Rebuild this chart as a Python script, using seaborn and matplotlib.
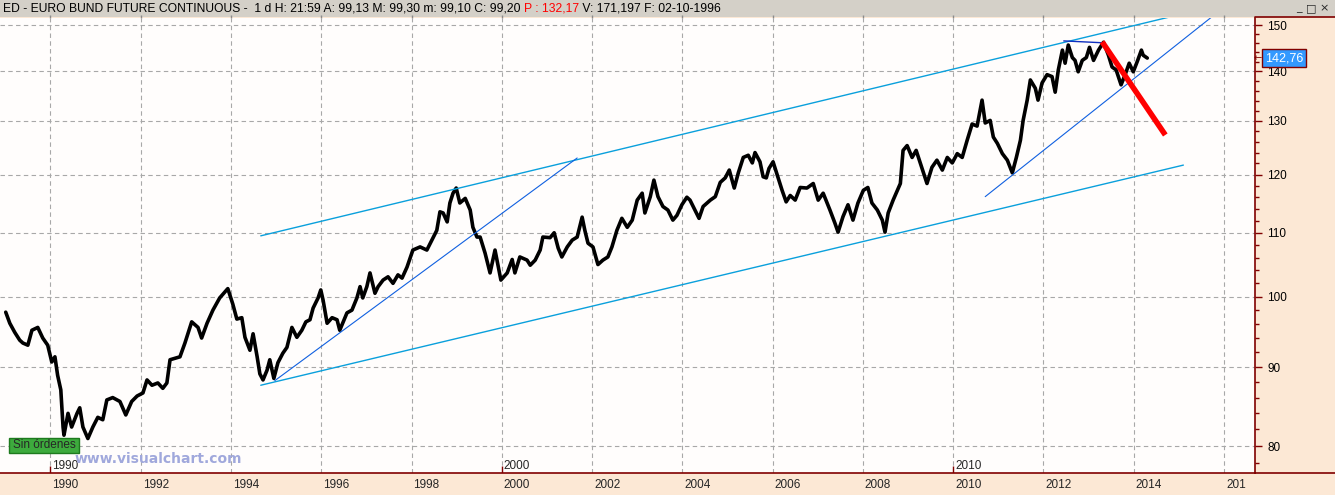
import matplotlib
matplotlib.use("Agg")
import seaborn as sns
import matplotlib.pyplot as plt
import matplotlib.ticker as mtick
import matplotlib.transforms as mtrans
from matplotlib.patches import Rectangle
from matplotlib.lines import Line2D

sns.set_style("white")
# Narrow font to mimic the terminal's bitmap font
plt.rcParams['font.family'] = ['Liberation Sans Narrow', 'Liberation Sans', 'DejaVu Sans']

# ---- Euro Bund continuous (decimal year, price) ----
bund_year = [
    1989.01, 1989.10, 1989.21, 1989.32, 1989.39, 1989.50, 1989.59, 1989.72, 1989.83, 1989.94,
    1990.03, 1990.10, 1990.16, 1990.23, 1990.28, 1990.30, 1990.39, 1990.47, 1990.59, 1990.65,
    1990.72, 1990.83, 1990.94, 1991.05, 1991.16, 1991.25, 1991.38, 1991.54, 1991.67, 1991.80,
    1991.92, 1992.05, 1992.14, 1992.25, 1992.38, 1992.49, 1992.58, 1992.65, 1992.87, 1992.98,
    1993.13, 1993.27, 1993.35, 1993.47, 1993.60, 1993.75, 1993.93, 1994.04, 1994.13, 1994.24,
    1994.31, 1994.42, 1994.49, 1994.58, 1994.64, 1994.71, 1994.80, 1994.86, 1994.95, 1995.04,
    1995.15, 1995.24, 1995.35, 1995.46, 1995.57, 1995.66, 1995.75, 1995.82, 1995.93, 1995.99,
    1996.04, 1996.13, 1996.24, 1996.35, 1996.41, 1996.57, 1996.68, 1996.79, 1996.86, 1996.92,
    1997.01, 1997.08, 1997.19, 1997.26, 1997.37, 1997.48, 1997.59, 1997.70, 1997.79, 1997.90,
    1998.03, 1998.19, 1998.34, 1998.45, 1998.56, 1998.63, 1998.70, 1998.79, 1998.85, 1998.92,
    1998.99, 1999.07, 1999.19, 1999.30, 1999.36, 1999.45, 1999.52, 1999.63, 1999.74, 1999.85,
    1999.98, 2000.12, 2000.23, 2000.29, 2000.40, 2000.56, 2000.63, 2000.74, 2000.85, 2000.91,
    2001.07, 2001.16, 2001.25, 2001.33, 2001.45, 2001.56, 2001.67, 2001.78, 2001.84, 2001.91,
    2002.02, 2002.13, 2002.24, 2002.35, 2002.44, 2002.55, 2002.66, 2002.78, 2002.89, 2003.00,
    2003.11, 2003.17, 2003.29, 2003.37, 2003.46, 2003.57, 2003.68, 2003.79, 2003.88, 2003.99,
    2004.10, 2004.17, 2004.28, 2004.37, 2004.46, 2004.62, 2004.73, 2004.84, 2004.95, 2005.04,
    2005.15, 2005.24, 2005.35, 2005.46, 2005.55, 2005.61, 2005.72, 2005.79, 2005.86, 2005.92,
    2006.01, 2006.10, 2006.21, 2006.30, 2006.39, 2006.50, 2006.61, 2006.76, 2006.90, 2007.01,
    2007.12, 2007.27, 2007.38, 2007.45, 2007.56, 2007.67, 2007.78, 2007.89, 2008.01, 2008.11,
    2008.20, 2008.32, 2008.43, 2008.49, 2008.56, 2008.67, 2008.83, 2008.89, 2008.98, 2009.09,
    2009.18, 2009.27, 2009.42, 2009.53, 2009.64, 2009.76, 2009.87, 2009.98, 2010.09, 2010.20,
    2010.31, 2010.42, 2010.53, 2010.64, 2010.71, 2010.82, 2010.89, 2010.98, 2011.09, 2011.20,
    2011.31, 2011.40, 2011.49, 2011.55, 2011.64, 2011.71, 2011.82, 2011.88, 2011.97, 2012.08,
    2012.19, 2012.26, 2012.33, 2012.42, 2012.48, 2012.55, 2012.64, 2012.70, 2012.77, 2012.86,
    2012.95, 2013.02, 2013.11, 2013.22, 2013.33, 2013.44, 2013.52, 2013.61, 2013.72, 2013.81,
    2013.90, 2013.99, 2014.08, 2014.17, 2014.21, 2014.30,
]
bund_price = [
    97.7, 96.1, 94.8, 93.7, 93.3, 93.0, 95.1, 95.5, 94.0, 93.0,
    90.7, 91.4, 88.9, 87.0, 82.3, 81.3, 84.0, 82.3, 84.0, 84.7,
    82.3, 80.9, 82.3, 83.5, 83.2, 85.7, 86.0, 85.5, 83.8, 85.5,
    86.2, 86.6, 88.3, 87.6, 87.9, 87.2, 87.9, 91.0, 91.4, 93.3,
    96.3, 95.5, 94.0, 96.1, 98.0, 99.8, 101.2, 98.9, 96.7, 96.9,
    94.1, 92.3, 94.6, 91.4, 89.1, 88.3, 89.6, 91.0, 88.5, 90.6,
    91.9, 92.7, 95.5, 94.1, 95.1, 96.3, 96.6, 98.3, 99.8, 101.0,
    99.5, 96.1, 96.9, 96.6, 95.1, 97.6, 98.0, 99.8, 101.5, 99.8,
    101.5, 103.6, 100.5, 101.5, 102.5, 103.0, 102.0, 103.3, 102.8, 104.5,
    107.2, 107.7, 107.2, 108.8, 110.4, 113.5, 113.3, 111.8, 115.0, 116.7,
    117.6, 115.0, 115.8, 113.8, 110.9, 109.3, 109.3, 106.7, 103.6, 107.2,
    102.5, 103.6, 105.7, 103.6, 106.1, 105.6, 104.8, 105.6, 107.2, 109.3,
    109.2, 110.0, 107.5, 106.1, 107.7, 108.8, 109.3, 112.6, 110.4, 108.3,
    107.7, 104.9, 105.6, 106.1, 107.7, 110.4, 112.4, 110.9, 112.1, 115.5,
    116.7, 113.3, 116.1, 119.0, 116.1, 114.4, 113.8, 112.1, 112.9, 114.7,
    116.0, 115.5, 113.8, 112.4, 114.4, 115.5, 116.1, 118.6, 119.4, 120.8,
    117.6, 120.3, 123.1, 123.5, 122.1, 124.0, 122.3, 119.6, 119.4, 121.1,
    122.3, 120.0, 117.2, 115.2, 116.3, 115.5, 117.7, 117.6, 118.4, 115.5,
    116.7, 113.8, 111.6, 110.1, 112.7, 114.7, 112.1, 115.0, 117.2, 117.7,
    115.0, 113.8, 112.1, 110.1, 113.3, 115.5, 118.4, 124.4, 125.3, 123.1,
    124.4, 122.1, 118.4, 121.3, 122.6, 120.8, 123.1, 122.1, 123.8, 123.1,
    126.3, 129.4, 129.0, 134.1, 129.6, 130.1, 126.9, 125.7, 123.8, 122.6,
    120.3, 123.1, 126.3, 130.1, 134.1, 138.2, 136.5, 134.1, 137.6, 139.3,
    138.9, 135.7, 140.3, 144.5, 141.7, 145.6, 142.9, 142.3, 139.9, 142.3,
    142.9, 145.1, 142.3, 144.5, 146.2, 143.4, 140.9, 140.3, 137.2, 139.3,
    141.7, 139.9, 142.1, 144.5, 143.4, 142.8,
]
last_price = 142.76

# hand-drawn trend lines: ([year0, year1], [price0, price1])
channel_top = ([1994.66, 2015.59], [109.5, 153.8])
channel_bottom = ([1994.66, 2015.10], [87.6, 121.7])
support_1994 = ([1994.97, 2001.67], [88.2, 123.0])
support_2011 = ([2010.71, 2015.81], [116.1, 152.5])
top_2012 = ([2012.45, 2013.30], [146.5, 146.1])
red_break = ([2013.30, 2014.70], [146.3, 127.3])

price_ticks = [80, 90, 100, 110, 120, 130, 140, 150]
minor_ticks = list(range(78, 152, 2))
year_ticks = list(range(1990, 2017, 2))
year_labels = [str(y) for y in year_ticks[:-1]] + ["201"]
decade_marks = [1990, 2000, 2010]

header_black = "ED - EURO BUND FUTURE CONTINUOUS -  1 d H: 21:59 A: 99,13 M: 99,30 m: 99,10 C: 99,20 "
header_red = "P : 132,17"
header_tail = " V: 171,197 F: 02-10-1996"

# ---- layout (pixels of the 1335x495 screenshot) ----
W, H = 1335, 495
PLOT_RIGHT, PLOT_TOP, PLOT_BOTTOM = 1255, 18, 473
DARKRED = "#800000"
LABEL_SIZE = 8.5


def fx(x):
    return x / W


def fy(y):
    return 1 - y / H


fig = plt.figure(figsize=(W / 100, H / 100), dpi=100)
fig.patch.set_facecolor("#FCE8D5")

# window header bar
fig.add_artist(Rectangle((0, fy(PLOT_TOP - 1)), 1, (PLOT_TOP - 1) / H, transform=fig.transFigure,
                         facecolor="#D4D0C8", edgecolor="none", zorder=-1))

ax = fig.add_axes([0, fy(PLOT_BOTTOM), fx(PLOT_RIGHT), (PLOT_BOTTOM - PLOT_TOP) / H])
ax.set_facecolor("#FFFDFC")

# price series
sns.lineplot(x=bund_year, y=bund_price, ax=ax, color="black", linewidth=2.6,
             estimator=None, sort=False, zorder=3)

# trend lines
for line in (channel_top, channel_bottom):
    ax.plot(*line, color="#0AA0DC", linewidth=1.0, zorder=4)
for line in (support_1994, support_2011):
    ax.plot(*line, color="#1060E0", linewidth=0.8, zorder=4)
ax.plot(*top_2012, color="#1030C0", linewidth=1.0, zorder=4)
ax.plot(*red_break, color="#FF0000", linewidth=4.0, solid_capstyle="butt", zorder=5)

# scales
ax.set_yscale("log")
ax.set_xlim(1988.883, 2016.687)
ax.set_ylim(76.84, 151.6)
ax.set_xlabel("")
ax.set_ylabel("")

ax.yaxis.set_major_locator(mtick.FixedLocator(price_ticks))
ax.yaxis.set_major_formatter(mtick.FixedFormatter([str(p) for p in price_ticks]))
ax.yaxis.set_minor_locator(mtick.FixedLocator([m for m in minor_ticks if m not in price_ticks]))
ax.yaxis.set_minor_formatter(mtick.NullFormatter())
ax.yaxis.tick_right()
ax.tick_params(axis="y", which="major", direction="out", length=5, width=1,
               color=DARKRED, labelsize=LABEL_SIZE, pad=4, labelcolor="black")
ax.tick_params(axis="y", which="minor", direction="out", length=3, width=1, color=DARKRED)

ax.set_xticks(year_ticks)
ax.tick_params(axis="x", which="major", direction="out", length=8, width=1,
               color=DARKRED, labelbottom=False)

ax.grid(True, which="major", color="#A8A8A8", linestyle=(0, (4, 3)), linewidth=0.8)
ax.set_axisbelow(True)

for side in ("left", "top"):
    ax.spines[side].set_visible(False)
for side in ("right", "bottom"):
    ax.spines[side].set_color(DARKRED)
    ax.spines[side].set_linewidth(1.2)

# year labels sit right of their tick, below the axis
xform = ax.get_xaxis_transform()
below = mtrans.offset_copy(xform, fig=fig, x=2, y=-12, units="dots")
for yr, lbl in zip(year_ticks, year_labels):
    ax.text(yr, 0, lbl, transform=below, ha="left", va="center", fontsize=LABEL_SIZE, clip_on=False)

# decade markers inside the plot
ax.vlines(decade_marks, 0, 7 / (PLOT_BOTTOM - PLOT_TOP), transform=xform, color=DARKRED, linewidth=1)
above = mtrans.offset_copy(xform, fig=fig, x=2, y=7, units="dots")
for yr in decade_marks:
    ax.text(yr, 0, str(yr), transform=above, ha="left", va="center", fontsize=LABEL_SIZE)

# small ticks under the header
ax.vlines(year_ticks, 1, 1 + 3 / (PLOT_BOTTOM - PLOT_TOP), transform=xform,
          color="#8C8C8C", linewidth=1, clip_on=False)

# frame lines of the right-hand price panel
fig.add_artist(Line2D([fx(PLOT_RIGHT), 1], [fy(PLOT_BOTTOM), fy(PLOT_BOTTOM)], color=DARKRED, linewidth=1.2))
fig.add_artist(Line2D([fx(PLOT_RIGHT), 1], [fy(PLOT_TOP - 1), fy(PLOT_TOP - 1)], color=DARKRED, linewidth=1.2))

# last price marker
yform = ax.get_yaxis_transform()
ax.text(1 + 29 / PLOT_RIGHT, last_price, f"{last_price:.2f}".replace(".", ","), transform=yform,
        ha="center", va="center", fontsize=9, color="white", clip_on=False, zorder=6,
        bbox=dict(boxstyle="square,pad=0.25", facecolor="#3399FF", edgecolor=DARKRED, linewidth=1))
ax.text(1 + 3 / PLOT_RIGHT, last_price, "\u2190", transform=yform, ha="center", va="center",
        fontsize=7, color=DARKRED, family="DejaVu Sans", clip_on=False)

# "Sin órdenes" badge and watermark
fig.add_artist(Rectangle((fx(9), fy(453)), 70 / W, 15 / H, transform=fig.transFigure,
                         facecolor="#3DAA3D", edgecolor="#1E7A1E", linewidth=1, zorder=5))
fig.text(fx(44), fy(445.5), "Sin órdenes", ha="center", va="center", fontsize=LABEL_SIZE, zorder=6)
fig.text(fx(75), fy(459), "www.visualchart.com", ha="left", va="center", fontsize=10,
         fontweight="bold", color="#A0A8DC", family="DejaVu Sans", zorder=6)

# header text (black / red / black)
renderer = fig.canvas.get_renderer()
x_pos = fx(3)
for txt, col in ((header_black, "black"), (header_red, "#FF0000"), (header_tail, "black")):
    t = fig.text(x_pos, fy(8.5), txt, ha="left", va="center", fontsize=8.7, color=col)
    bb = t.get_window_extent(renderer=renderer)
    x_pos = bb.x1 / W

# window buttons
for x, s in ((1299, "_"), (1311, "\u25a1"), (1324, "\u00d7")):
    fig.text(fx(x), fy(8), s, ha="center", va="center", fontsize=8, family="DejaVu Sans")

fig.savefig("out.png", dpi=100, facecolor=fig.get_facecolor())
